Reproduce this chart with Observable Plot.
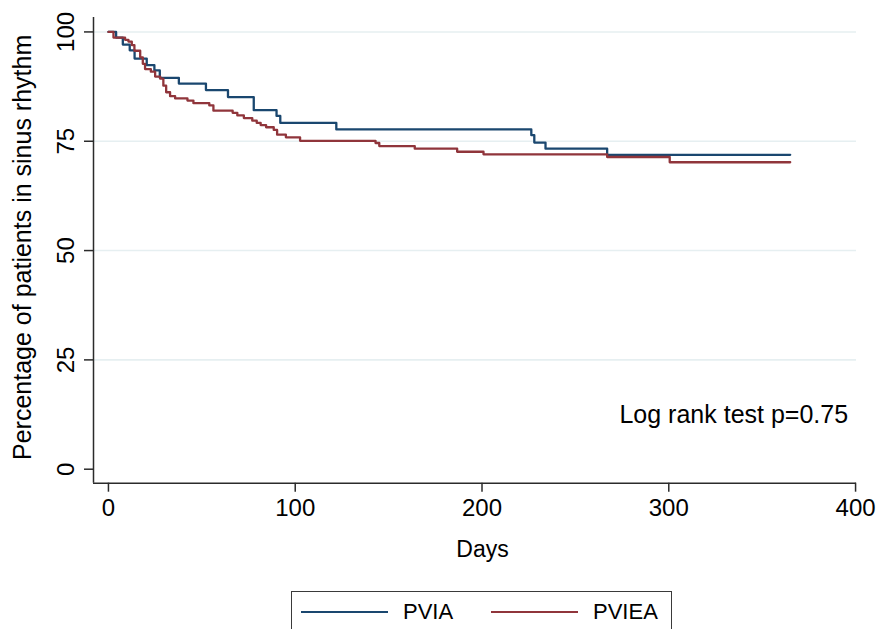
<!DOCTYPE html>
<html>
<head>
<meta charset="utf-8">
<script src="https://cdn.jsdelivr.net/npm/d3@7"></script>
<script src="https://cdn.jsdelivr.net/npm/@observablehq/plot@0.6"></script>
<style>
  html, body { margin: 0; padding: 0; background: #fff; overflow: hidden; }
  body { width: 878px; height: 629px; font-family: "Liberation Sans", Arial, Helvetica, sans-serif; }
  #legend { position: relative; margin-left: 291px; margin-top: 1px; width: 381px; height: 50px;
            border: 1.5px solid #3a3a3a; box-sizing: border-box; }
  .sw { position: absolute; top: 19px; width: 87px; height: 0; border-top: 2px solid; }
  .lab { position: absolute; top: 7px; font-size: 22px; color: #000; line-height: 26px; }
</style>
</head>
<body>
<div id="chart"></div>
<div id="legend"></div>
<script>
// ---- data ----
const groups = ["PVIA", "PVIEA"];
const groupColors = ["#1a476f", "#90353b"];

const pviaDays = [0, 4.1, 7.7, 11.4, 14, 20.5, 24.6, 27.5, 37.7, 52.2, 64, 77.8, 90, 92, 122, 226.4, 228, 234, 267, 365];
const pviaPct  = [100, 98.7, 97.1, 95.8, 93.9, 92.4, 91.2, 89.5, 88.2, 86.7, 85.1, 82.1, 80.8, 79.2, 77.7, 76.4, 74.7, 73.3, 71.9, 71.9];

const pvieaDays = [0, 2.7, 8.9, 10.7, 12.5, 13.9, 17.0, 18.4, 19.6, 22.7, 25.0, 27.7, 29.4, 30.9, 33.0, 35.7, 42.3, 45.5, 54, 56.2, 66.5, 69, 72.5, 77, 79.4, 81.5, 84.4, 88.5, 90.3, 95, 102.6, 143, 145, 164, 186.7, 200.8, 267, 300.5, 365];
const pvieaPct  = [100, 98.7, 98.2, 97.8, 97.0, 95.7, 94.2, 92.7, 91.5, 90.9, 89.8, 89.3, 87.7, 86.2, 85.3, 84.8, 84.3, 83.7, 83.2, 82.0, 81.5, 80.9, 80.3, 79.7, 79.2, 78.7, 78.2, 77.6, 76.5, 75.9, 75.1, 74.6, 73.9, 73.3, 72.6, 72.0, 71.4, 70.2, 70.2];

const xTicks = [0, 100, 200, 300, 400];
const yTicks = [0, 25, 50, 75, 100];
const yGrid = [25, 50, 75, 100];
const xDomain = [-8, 400.5];
const yDomain = [-3.2, 103.3];

const xTitle = "Days";
const yTitle = "Percentage of patients in sinus rhythm";
const note = {text: "Log rank test p=0.75", day: 396, pct: 10.5};

// ---- build table ----
const rows = [
  ...pviaDays.map((d, i) => ({group: groups[0], day: d, pct: pviaPct[i]})),
  ...pvieaDays.map((d, i) => ({group: groups[1], day: d, pct: pvieaPct[i]}))
];

const font = "'Liberation Sans', Arial, Helvetica, sans-serif";

const chart = Plot.plot({
  width: 878,
  height: 590,
  marginLeft: 93,
  marginRight: 22,
  marginTop: 17,
  marginBottom: 107.3,
  style: {fontFamily: font, background: "#fff", color: "#000"},
  x: {domain: xDomain},
  y: {domain: yDomain},
  color: {domain: groups, range: groupColors},
  marks: [
    Plot.gridY(yGrid, {stroke: "#e6eff1", strokeOpacity: 1, strokeWidth: 1.6}),
    Plot.line(rows, {x: "day", y: "pct", z: "group", stroke: "group", curve: "step-after", strokeWidth: 2.3}),
    Plot.ruleX([xDomain[0]], {stroke: "#2b2b2b", strokeWidth: 1.5}),
    Plot.ruleY([yDomain[0]], {stroke: "#2b2b2b", strokeWidth: 1.5}),
    Plot.axisX(xTicks, {tickSize: 9, tickPadding: 7, fontSize: 24, label: null, stroke: "#2b2b2b", strokeWidth: 1.5, fill: "#000"}),
    Plot.axisY(yTicks, {tickSize: 9, tickFormat: () => "", label: null, stroke: "#2b2b2b", strokeWidth: 1.5}),
    Plot.text(yTicks, {y: d => d, text: d => String(d), frameAnchor: "left", rotate: -90, dx: -20, textAnchor: "middle", lineAnchor: "bottom", fontSize: 24, fill: "#000"}),
    Plot.text([yTitle], {frameAnchor: "left", rotate: -90, dx: -63, dy: -3, textAnchor: "middle", lineAnchor: "bottom", fontSize: 25, fill: "#000"}),
    Plot.text([xTitle], {frameAnchor: "bottom", dx: 7.5, dy: 74, textAnchor: "middle", lineAnchor: "bottom", fontSize: 23, fill: "#000"}),
    Plot.text([note], {x: "day", y: "pct", text: "text", textAnchor: "end", lineAnchor: "bottom", fontSize: 25, fill: "#000"})
  ]
});
document.getElementById("chart").appendChild(chart);

// ---- legend ----
const legend = document.getElementById("legend");
const swLeft = [9, 199];
const labLeft = [111, 301];
groups.forEach((g, i) => {
  const sw = document.createElement("div");
  sw.className = "sw";
  sw.style.left = swLeft[i] + "px";
  sw.style.borderTopColor = groupColors[i];
  legend.appendChild(sw);
  const lab = document.createElement("div");
  lab.className = "lab";
  lab.style.left = labLeft[i] + "px";
  lab.textContent = g;
  legend.appendChild(lab);
});
</script>
</body>
</html>
